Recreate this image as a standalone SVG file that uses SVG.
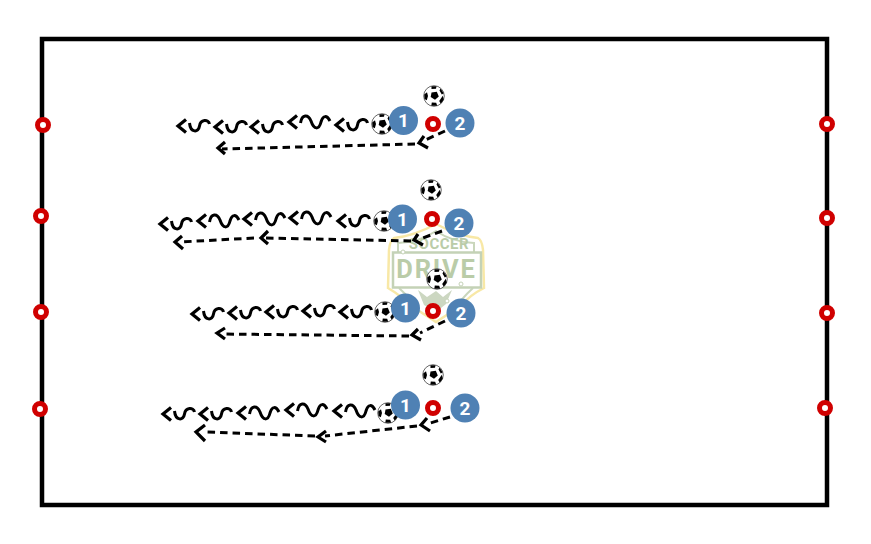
<svg xmlns="http://www.w3.org/2000/svg" width="871" height="544" viewBox="0 0 871 544">
<style>
.field{fill:none;stroke:#000;stroke-width:4.5}
.cone{fill:#fff;stroke:#d00000;stroke-width:5}
.p{fill:#4f81b4}
.pt{fill:#fff;font:700 19px Roboto,"Liberation Sans",sans-serif;text-anchor:middle}
.d{fill:none;stroke:#000;stroke-width:3;stroke-dasharray:7.500 5}
.h,.w{fill:none;stroke:#000;stroke-width:3.200}
.w{stroke-width:3}
.lg{fill:#bacca8;font-family:Roboto,"Liberation Sans",sans-serif;font-weight:700;text-anchor:middle}
</style>
<defs>
<g id="ball">
<circle r="10.300" fill="#fff" stroke="#444" stroke-width="0.8"/>
<path d="M-2.500-3.500 2.800-4.300 4.800 .5 1 3.800-3.300 1Z"/>
<path d="M-2.500-9.700 2.500-9.800 2-7.300-2.500-7Z M6.500-7.600 9.800-2.800 7.800-1.500 5.500-5.500Z M8.800-.2 9.800 3.600 6.800 7.800 5.200 5Z M-2.200 6.500 2.200 6.800 3.200 9.700-2.700 9.800Z M-9.800-1.500-7-3.700-6-.0-7.200 4.200-9.500 3Z"/>
</g>
<g id="s"><path class="h" d="M8-6.500 0 0 8 6.500"/><path class="w" d="M11.500-3C12.500 7 20.500 7 21.500 0 22.500-7 30.500-7 31.500-2"/></g>
<g id="l"><path class="h" d="M8-6.500 0 0 8 6.500"/><path class="w" d="M11.500 1C13-8 19-8 22-1 25 8 30 8 32 0 34-7 38-7 41-1"/></g>
</defs>
<g id="logo">
<path d="M436 224Q458 236 478 238 482 240 483 250L484 288Q470 295 462 305L436 322 410 305Q400 295 388 288L389 250Q390 240 394 238 414 236 436 224Z" fill="#fff" stroke="#f8e8a6" stroke-width="2.500"/>
<path d="M398 252V243Q420 242 436 231 452 242 474 243V252M399 288Q410 298 420 312M473 288Q462 298 452 312" fill="none" stroke="#c9d6bb" stroke-width="2"/>
<rect x="393" y="252.500" width="88" height="35" fill="#fff" stroke="#c4d2b6" stroke-width="2.500"/>
<path d="M418 290 424 305 436 312 446 304 452 290 443 297 436 291 427 297Z" fill="#ccd7c1"/>
<circle cx="403" cy="252" r="2" fill="#fff" stroke="#c4d2b6"/><circle cx="461" cy="284" r="2" fill="#fff" stroke="#c4d2b6"/><circle cx="447" cy="301" r="2" fill="#fff" stroke="#c4d2b6"/>
<text class="lg" x="439" y="248.500" font-size="15" letter-spacing="0.500">SOCCER</text>
<text class="lg" x="436.500" y="278" font-size="25.500" letter-spacing="1.800">DRIVE</text>
</g>
<g id="field"><rect class="field" x="42" y="39" width="785" height="466"/></g>
<g id="connectors">
<path class="d" d="M445 131 423 141"/><path class="h" d="M424 136 419 143 428 148"/>
<path class="d" d="M415 144 222 149"/><path class="h" d="M225 142 218 148 225 154"/>
<path class="d" d="M442 231 420 239"/><path class="h" d="M418 234 414 240 423 245"/>
<path class="d" d="M411 241 266 238"/><path class="h" d="M268 231 261 238 268 244"/>
<path class="d" d="M254 238 180 242"/><path class="h" d="M182 236 175 242 183 249"/>
<path class="d" d="M445 321 420 333"/><path class="h" d="M418 329 412 335 421 340"/>
<path class="d" d="M409 336 222 334"/><path class="h" d="M225 328 217 333 225 339"/>
<path class="d" d="M450 417 427 424"/><path class="h" d="M427 418 421 425 430 431"/>
<path class="d" d="M417 426 325 436"/><path class="h" d="M326 431 318 437 326 442"/>
<path class="d" d="M315 436 205 432"/><path class="h" d="M205 425 196 432 205 441"/>
<use href="#s" x="178" y="126"/><use href="#s" x="215" y="127"/><use href="#s" x="251" y="127"/><use href="#l" x="289" y="122"/><use href="#s" x="336" y="125"/>
<use href="#s" x="160" y="224"/><use href="#l" x="198" y="221"/><use href="#l" x="244" y="219"/><use href="#l" x="290" y="218"/><use href="#s" x="338" y="221"/>
<use href="#s" x="192" y="314"/><use href="#s" x="229" y="313"/><use href="#s" x="266" y="312"/><use href="#s" x="303" y="311"/><use href="#s" x="340" y="312"/>
<use href="#s" x="163" y="414"/><use href="#s" x="200" y="414"/><use href="#l" x="238" y="413"/><use href="#l" x="286" y="410"/><use href="#l" x="334" y="411"/>
</g>
<g id="cones">
<circle class="cone" cx="43" cy="125" r="5.500"/><circle class="cone" cx="41" cy="216" r="5.500"/><circle class="cone" cx="41" cy="312" r="5.500"/><circle class="cone" cx="40" cy="409" r="5.500"/>
<circle class="cone" cx="827" cy="124" r="5.500"/><circle class="cone" cx="827" cy="218" r="5.500"/><circle class="cone" cx="827" cy="313" r="5.500"/><circle class="cone" cx="825" cy="408" r="5.500"/>
<circle class="cone" cx="433" cy="124" r="5.500"/><circle class="cone" cx="432" cy="219" r="5.500"/><circle class="cone" cx="433" cy="311" r="5.500"/><circle class="cone" cx="433" cy="408" r="5.500"/>
</g>
<g id="balls">
<use href="#ball" x="382" y="124"/><use href="#ball" x="434" y="96"/>
<use href="#ball" x="384" y="221"/><use href="#ball" x="431" y="190"/>
<use href="#ball" x="385" y="312"/><use href="#ball" x="437" y="279"/>
<use href="#ball" x="388" y="413"/><use href="#ball" x="433" y="375"/>
</g>
<g id="p1a"><circle class="p" cx="403.500" cy="120.500" r="14.500"/><text class="pt" x="403.500" y="127">1</text></g>
<g id="p2a"><circle class="p" cx="460" cy="123" r="14.500"/><text class="pt" x="460" y="129.500">2</text></g>
<g id="p1b"><circle class="p" cx="402.500" cy="219" r="14.500"/><text class="pt" x="402.500" y="225.500">1</text></g>
<g id="p2b"><circle class="p" cx="459" cy="223" r="14.500"/><text class="pt" x="459" y="229.500">2</text></g>
<g id="p1c"><circle class="p" cx="405.500" cy="308" r="14.500"/><text class="pt" x="405.500" y="314.500">1</text></g>
<g id="p2c"><circle class="p" cx="461" cy="313" r="14.500"/><text class="pt" x="461" y="319.500">2</text></g>
<g id="p1d"><circle class="p" cx="405.500" cy="405" r="14.500"/><text class="pt" x="405.500" y="411.500">1</text></g>
<g id="p2d"><circle class="p" cx="465" cy="408" r="14.500"/><text class="pt" x="465" y="414.500">2</text></g>
</svg>
